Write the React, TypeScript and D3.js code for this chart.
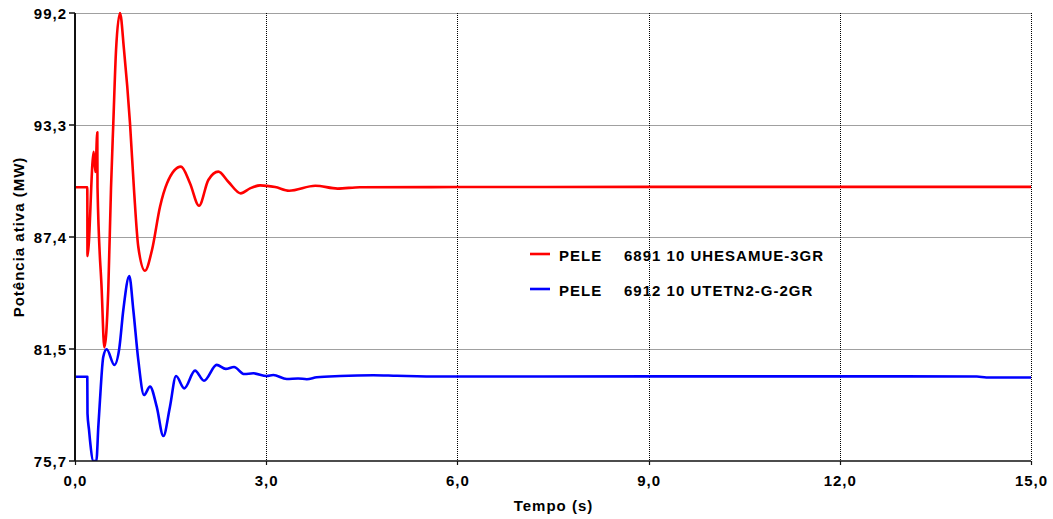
import React from "react";
import * as d3 from "d3";

// ---- data ----
const redTime = [0, 0.193, 0.196, 0.293, 0.32, 0.35, 0.353, 0.419, 0.46, 0.522, 0.565, 0.601, 0.644, 0.706, 0.769, 0.863, 0.926, 0.993, 1.098, 1.208, 1.334, 1.444, 1.663, 1.804, 1.946, 2.092, 2.249, 2.405, 2.6, 2.746, 2.903, 3.14, 3.36, 3.77, 4.12, 4.47, 6.0, 9.0, 12.0, 15.0];
const redValue = [90.06, 90.06, 86.45, 91.92, 90.86, 92.94, 90.07, 84.67, 81.66, 84.67, 90.02, 93.41, 97.26, 99.2, 97.26, 93.41, 89.92, 86.94, 85.68, 86.77, 89.04, 90.27, 91.14, 90.27, 89.09, 90.44, 90.88, 90.35, 89.74, 90.0, 90.16, 90.07, 89.88, 90.14, 89.99, 90.06, 90.07, 90.08, 90.08, 90.08];

const blueTime = [0, 0.193, 0.196, 0.22, 0.235, 0.29, 0.335, 0.366, 0.392, 0.444, 0.497, 0.617, 0.695, 0.758, 0.852, 0.915, 0.993, 1.083, 1.177, 1.282, 1.386, 1.49, 1.585, 1.715, 1.883, 2.024, 2.223, 2.365, 2.495, 2.656, 2.798, 3.008, 3.111, 3.322, 3.5, 3.636, 3.793, 4.16, 4.68, 5.05, 5.73, 9.0, 12.0, 14.15, 14.3, 15.0];
const blueValue = [80.12, 80.12, 78.2, 77.33, 76.8, 75.7, 75.7, 77.5, 78.9, 81.17, 81.56, 80.74, 81.61, 83.62, 85.4, 83.62, 81.0, 79.16, 79.6, 78.55, 77.01, 78.55, 80.16, 79.51, 80.44, 79.91, 80.74, 80.53, 80.63, 80.26, 80.3, 80.16, 80.21, 80.0, 80.03, 79.99, 80.09, 80.16, 80.2, 80.17, 80.13, 80.14, 80.14, 80.13, 80.08, 80.08];

const yTicks = [75.7, 81.575, 87.45, 93.325, 99.2];
const yTickLabels = ["75,7", "81,5", "87,4", "93,3", "99,2"];
const xTicks = [0, 3, 6, 9, 12, 15];
const xTickLabels = ["0,0", "3,0", "6,0", "9,0", "12,0", "15,0"];

const seriesNames = ["PELE", "PELE"];
const seriesLabels = ["6891 10 UHESAMUE-3GR", "6912 10 UTETN2-G-2GR"];
const seriesColors = ["#ff0000", "#0000ff"];

const W = 1053;
const H = 519;
const left = 75;
const right = 1031;
const top = 13;
const bottom = 461;

const font = "'Liberation Sans', Arial, sans-serif";

export default function App() {
  const x = d3.scaleLinear().domain([0, 15]).range([left, right]);
  const y = d3.scaleLinear().domain([75.7, 99.2]).range([bottom, top]);
  const px = (v: number) => Math.round(v) + 0.5;

  const line = d3
    .line<[number, number]>()
    .x((d) => x(d[0]))
    .y((d) => y(d[1]))
    .curve(d3.curveMonotoneX);

  const redData: [number, number][] = redTime.map((t, i) => [t, redValue[i]]);
  const blueData: [number, number][] = blueTime.map((t, i) => [t, blueValue[i]]);

  const textStyle: React.CSSProperties = {
    fontFamily: font,
    fontWeight: "bold",
    fontSize: 15,
    letterSpacing: 1,
  };

  return (
    <svg
      width={W}
      height={H}
      style={{ position: "absolute", left: 0, top: 0, background: "#fff" }}
    >
      <defs>
        <clipPath id="plot">
          <rect x={left} y={top - 2} width={right - left} height={bottom - top + 2} />
        </clipPath>
      </defs>
      {/* horizontal gridlines */}
      {yTicks.slice(1).map((v) => (
        <line key={"hg" + v} x1={left} x2={right} y1={px(y(v))} y2={px(y(v))} stroke="#a0a0a0" strokeWidth={1} />
      ))}
      {/* vertical gridlines */}
      {xTicks.slice(1).map((v) => (
        <line
          key={"vg" + v}
          x1={px(x(v))}
          x2={px(x(v))}
          y1={top}
          y2={bottom}
          stroke="#000"
          strokeWidth={1}
          strokeDasharray="1,1"
        />
      ))}
      {/* series */}
      <g clipPath="url(#plot)">
        <path d={line(redData) || ""} fill="none" stroke={seriesColors[0]} strokeWidth={2.6} strokeLinejoin="round" />
        <path d={line(blueData) || ""} fill="none" stroke={seriesColors[1]} strokeWidth={2.6} strokeLinejoin="round" />
      </g>
      {/* axes */}
      <line x1={left} x2={left} y1={top} y2={bottom} stroke="#111" strokeWidth={2} />
      <line x1={left} x2={right} y1={bottom} y2={bottom} stroke="#111" strokeWidth={1.6} />
      {yTicks.map((v, i) => (
        <g key={"yt" + v}>
          <line x1={left - 6} x2={left} y1={y(v)} y2={y(v)} stroke="#111" strokeWidth={1.5} />
          <text x={67} y={y(v) + 5.5} textAnchor="end" style={textStyle} fill="#000">
            {yTickLabels[i]}
          </text>
        </g>
      ))}
      {xTicks.map((v, i) => (
        <g key={"xt" + v}>
          <line x1={px(x(v))} x2={px(x(v))} y1={bottom} y2={bottom + 4} stroke="#111" strokeWidth={1.2} />
          <text x={x(v) + 0.5} y={486} textAnchor="middle" style={textStyle} fill="#000">
            {xTickLabels[i]}
          </text>
        </g>
      ))}
      {/* axis titles */}
      <text x={(left + right) / 2 + 0.5} y={511} textAnchor="middle" style={textStyle} fill="#000">
        Tempo (s)
      </text>
      <text
        transform={`translate(24, ${(top + bottom) / 2}) rotate(-90)`}
        textAnchor="middle"
        style={textStyle}
        fill="#000"
      >
        Potência ativa (MW)
      </text>
      {/* legend */}
      {seriesLabels.map((lab, i) => (
        <g key={"lg" + i}>
          <line
            x1={530}
            x2={550}
            y1={254 + i * 35}
            y2={254 + i * 35}
            stroke={seriesColors[i]}
            strokeWidth={2.6}
          />
          <text x={559} y={260.5 + i * 35} style={textStyle} fill="#000">
            {seriesNames[i]}
          </text>
          <text x={624} y={260.5 + i * 35} style={textStyle} fill="#000">
            {lab}
          </text>
        </g>
      ))}
    </svg>
  );
}
